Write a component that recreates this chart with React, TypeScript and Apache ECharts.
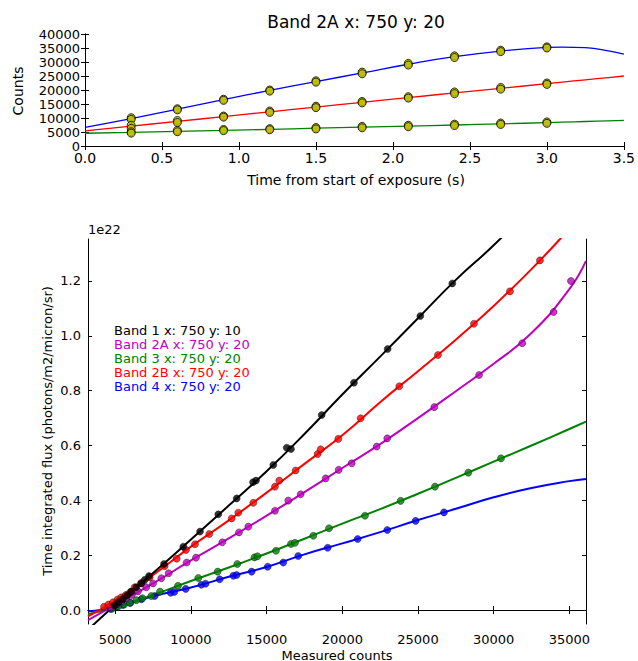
import React, { useEffect, useRef } from "react";
import * as echarts from "echarts";

// ---------- Top panel: counts vs time ----------
const topTimes = [0.3, 0.6, 0.9, 1.2, 1.5, 1.8, 2.1, 2.4, 2.7, 3.0];
const blueReadsA = [10100, 13300, 16700, 20000, 23300, 26400, 29500, 32200, 34200, 35400];
const blueReadsB = [9500, 12900, 16300, 19600, 22800, 25800, 28900, 31600, 33700, 35000];
const redReadsA = [7400, 9100, 10700, 12500, 14200, 15900, 17600, 19300, 20900, 22500];
const redReadsB = [6300, 8400, 10300, 12000, 13700, 15400, 17100, 18700, 20300, 22000];
const greenReadsA = [5100, 5600, 5900, 6200, 6600, 7000, 7400, 7800, 8200, 8600];
const greenReadsB = [4600, 5100, 5500, 5800, 6100, 6500, 6900, 7300, 7700, 8100];

const topFitTimes = [0, 0.3, 0.6, 0.9, 1.2, 1.5, 1.8, 2.1, 2.4, 2.7, 3.0, 3.1, 3.25, 3.4, 3.5];
const blueFit = [6670, 9800, 13150, 16550, 19850, 23000, 26100, 29200, 31900, 33900, 35200, 35330, 35100, 34000, 32800];
const redFit = [5400, 7100, 8800, 10500, 12200, 13900, 15600, 17300, 18950, 20600, 22250, 22800, 23650, 24450, 25000];
const greenFit = [4550, 4850, 5200, 5550, 5950, 6350, 6750, 7100, 7500, 7900, 8350, 8500, 8750, 9000, 9150];

// ---------- Bottom panel: flux (1e22) vs measured counts ----------
const band1Counts = [4962, 5226, 5512, 5797, 6060, 6390, 6723, 6950, 7230, 8220, 9495, 10600, 11808, 13023, 14100, 14300, 15442, 16330, 16610, 18638, 20772, 22998, 25154, 27267];
const band1Flux = [0.016, 0.028, 0.040, 0.054, 0.067, 0.083, 0.097, 0.110, 0.124, 0.168, 0.231, 0.286, 0.349, 0.407, 0.466, 0.472, 0.529, 0.592, 0.587, 0.711, 0.829, 0.952, 1.072, 1.191];

const band2ACounts = [4700, 5100, 5400, 5731, 6100, 6500, 7051, 7500, 8042, 8530, 9720, 10334, 12073, 13175, 13790, 15553, 16431, 17249, 18902, 19761, 20620, 22272, 22971, 26076, 29036, 31888, 33962, 35105];
const band2AFlux = [0.010, 0.022, 0.032, 0.043, 0.055, 0.068, 0.083, 0.097, 0.116, 0.134, 0.173, 0.191, 0.247, 0.283, 0.304, 0.362, 0.399, 0.422, 0.480, 0.511, 0.535, 0.596, 0.626, 0.740, 0.857, 0.973, 1.087, 1.200];

const band3Counts = [4800, 5200, 5600, 5952, 6400, 6800, 7382, 7956, 9145, 10486, 11768, 13063, 14200, 14400, 15619, 16610, 16875, 18085, 19122, 21500, 23855, 26123, 28326, 30484];
const band3Flux = [0.005, 0.013, 0.020, 0.027, 0.036, 0.043, 0.051, 0.067, 0.088, 0.117, 0.140, 0.168, 0.192, 0.196, 0.216, 0.241, 0.245, 0.271, 0.298, 0.344, 0.398, 0.450, 0.501, 0.553];

const band2BCounts = [4257, 4550, 4852, 5150, 5402, 5700, 6000, 6285, 6700, 7275, 8265, 9060, 9674, 10268, 11211, 12693, 13129, 14122, 15552, 15838, 16918, 18374, 18573, 19734, 21213, 23765, 26321, 28699, 31077, 33058];
const band2BFlux = [0.012, 0.020, 0.028, 0.038, 0.046, 0.055, 0.066, 0.083, 0.098, 0.119, 0.160, 0.187, 0.219, 0.240, 0.277, 0.334, 0.355, 0.391, 0.450, 0.472, 0.509, 0.569, 0.586, 0.624, 0.699, 0.816, 0.930, 1.044, 1.162, 1.275];

const band4Counts = [4700, 5100, 5500, 6000, 6723, 7606, 8660, 8900, 9656, 10690, 10970, 11900, 12800, 13023, 14013, 15071, 16101, 17090, 19036, 21016, 22972, 24846, 26717];
const band4Flux = [0.004, 0.012, 0.018, 0.026, 0.039, 0.051, 0.063, 0.066, 0.077, 0.092, 0.096, 0.112, 0.125, 0.128, 0.140, 0.158, 0.173, 0.197, 0.227, 0.259, 0.292, 0.325, 0.356];

const fitCounts = [3200, 5000, 7500, 10000, 12500, 15000, 17500, 20000, 22500, 25000, 27500, 30000, 32500, 35000, 36100];
const band1Fit = [-0.072, 0.018, 0.135, 0.257, 0.381, 0.506, 0.642, 0.786, 0.924, 1.064, 1.204, 1.33, 1.47, 1.6, 1.66];
const band2AFit = [-0.037, 0.019, 0.097, 0.181, 0.261, 0.344, 0.430, 0.518, 0.605, 0.700, 0.798, 0.898, 1.010, 1.170, 1.273];
const band3Fit = [-0.015, 0.010, 0.055, 0.106, 0.155, 0.206, 0.260, 0.315, 0.368, 0.424, 0.482, 0.541, 0.600, 0.660, 0.687];
const band2BFit = [-0.023, 0.034, 0.128, 0.231, 0.327, 0.428, 0.533, 0.637, 0.758, 0.871, 0.986, 1.109, 1.243, 1.39, 1.46];
const band4Fit = [-0.005, 0.010, 0.050, 0.082, 0.121, 0.157, 0.203, 0.243, 0.284, 0.328, 0.369, 0.411, 0.445, 0.470, 0.478];

const bottomXTicks = [5000, 10000, 15000, 20000, 25000, 30000, 35000];
const bottomYTicks = [0, 0.2, 0.4, 0.6, 0.8, 1.0, 1.2];

const legendLines = [
  { text: "Band 1 x: 750 y: 10", color: "#000000" },
  { text: "Band 2A x: 750 y: 20", color: "#bf00bf" },
  { text: "Band 3 x: 750 y: 20", color: "#008000" },
  { text: "Band 2B x: 750 y: 20", color: "#ff0000" },
  { text: "Band 4 x: 750 y: 20", color: "#0000ff" },
];

const FONT = "DejaVu Sans";

const zip = (xs: number[], ys: number[]) => xs.map((x, i) => [x, ys[i]]);

export default function App() {
  const ref = useRef<HTMLDivElement>(null);

  useEffect(() => {
    if (!ref.current) return;
    const chart = echarts.init(ref.current, undefined, { renderer: "svg" });

    const axisLine = { show: true, lineStyle: { color: "#000", width: 1 } };
    const inTick = { show: true, inside: true, length: 4, lineStyle: { color: "#000", width: 1 } };

    const topFitLine = (data: number[], color: string) => ({
      type: "line",
      xAxisIndex: 0,
      yAxisIndex: 0,
      data: zip(topFitTimes, data),
      smooth: true,
      showSymbol: false,
      symbol: "none",
      lineStyle: { color, width: 1.3 },
      z: 2,
    });
    const topReads = (data: number[]) => ({
      type: "scatter",
      xAxisIndex: 0,
      yAxisIndex: 0,
      data: zip(topTimes, data),
      symbol: "circle",
      symbolSize: 8,
      itemStyle: { color: "#bfbf00", borderColor: "#000", borderWidth: 1 },
      z: 3,
    });

    const bandFit = (data: number[], color: string) => ({
      type: "line",
      xAxisIndex: 2,
      yAxisIndex: 2,
      data: zip(fitCounts, data),
      smooth: true,
      showSymbol: false,
      symbol: "none",
      lineStyle: { color, width: 2 },
      z: 2,
    });
    const bandPts = (xs: number[], ys: number[], color: string) => ({
      type: "scatter",
      xAxisIndex: 2,
      yAxisIndex: 2,
      data: zip(xs, ys),
      symbol: "circle",
      symbolSize: 7,
      itemStyle: { color, borderColor: "#000", borderWidth: 0.5 },
      z: 3,
    });

    const graphics: any[] = [
      { type: "text", x: 356, y: 22, style: { text: "Band 2A x: 750 y: 20", font: `17px '${FONT}'`, fill: "#000", textAlign: "center", textVerticalAlign: "middle" } },
      { type: "text", x: 18, y: 91, rotation: Math.PI / 2, style: { text: "Counts", font: `14px '${FONT}'`, fill: "#000", textAlign: "center", textVerticalAlign: "middle" } },
      { type: "text", x: 356, y: 180, style: { text: "Time from start of exposure (s)", font: `14px '${FONT}'`, fill: "#000", textAlign: "center", textVerticalAlign: "middle" } },
      { type: "text", x: 88, y: 236, style: { text: "1e22", font: `13px '${FONT}'`, fill: "#000", textAlign: "left", textVerticalAlign: "bottom" } },
      { type: "text", x: 47, y: 431, rotation: Math.PI / 2, style: { text: "Time integrated flux (photons/m2/micron/sr)", font: `13px '${FONT}'`, fill: "#000", textAlign: "center", textVerticalAlign: "middle" } },
      { type: "text", x: 337, y: 655, style: { text: "Measured counts", font: `13px '${FONT}'`, fill: "#000", textAlign: "center", textVerticalAlign: "middle" } },
      ...legendLines.map((l, i) => ({
        type: "text",
        x: 114,
        y: 330 + i * 14,
        style: { text: l.text, font: `13px '${FONT}'`, fill: l.color, textAlign: "left", textVerticalAlign: "middle" },
      })),
    ];

    const option: any = {
      animation: false,
      backgroundColor: "#fff",
      textStyle: { fontFamily: FONT },
      grid: [
        { left: 85, top: 34, width: 543, height: 112, containLabel: false },
        { left: 88, top: 239, width: 498, height: 385, containLabel: false },
      ],
      xAxis: [
        {
          gridIndex: 0, type: "value", position: "bottom", min: 0, max: 3.5, interval: 0.5,
          axisLine, axisTick: inTick, splitLine: { show: false },
          axisLabel: { fontSize: 14, color: "#000", margin: 5, showMinLabel: true, showMaxLabel: true, fontFamily: FONT, formatter: (v: number) => v.toFixed(1) },
        },
        {
          gridIndex: 0, type: "value", position: "top", min: 0, max: 3.5, interval: 0.5,
          axisLine, axisTick: inTick, splitLine: { show: false }, axisLabel: { show: false },
        },
        {
          gridIndex: 1, type: "value", position: "bottom", min: 3200, max: 36100,
          axisLine, axisTick: { ...inTick, customValues: bottomXTicks }, splitLine: { show: false },
          axisLabel: { fontSize: 13, color: "#000", margin: 9, fontFamily: FONT, customValues: bottomXTicks, formatter: (v: number) => String(Math.round(v)) },
        },
        {
          gridIndex: 1, type: "value", position: "top", min: 3200, max: 36100,
          axisLine, axisTick: { ...inTick, customValues: bottomXTicks }, splitLine: { show: false }, axisLabel: { show: false, customValues: bottomXTicks },
        },
      ],
      yAxis: [
        {
          gridIndex: 0, type: "value", position: "left", min: 0, max: 40000, interval: 5000,
          axisLine, axisTick: inTick, splitLine: { show: false },
          axisLabel: { fontSize: 13, color: "#000", margin: 5, showMinLabel: true, showMaxLabel: true, fontFamily: FONT, formatter: (v: number) => String(Math.round(v)) },
        },
        {
          gridIndex: 0, type: "value", position: "right", min: 0, max: 40000, interval: 5000,
          axisLine, axisTick: inTick, splitLine: { show: false }, axisLabel: { show: false },
        },
        {
          gridIndex: 1, type: "value", position: "left", min: -0.051, max: 1.353,
          axisLine, axisTick: { ...inTick, customValues: bottomYTicks }, splitLine: { show: false },
          axisLabel: { fontSize: 13, color: "#000", margin: 7, fontFamily: FONT, customValues: bottomYTicks, formatter: (v: number) => v.toFixed(1) },
        },
        {
          gridIndex: 1, type: "value", position: "right", min: -0.051, max: 1.353,
          axisLine, axisTick: { ...inTick, customValues: bottomYTicks }, splitLine: { show: false }, axisLabel: { show: false, customValues: bottomYTicks },
        },
      ],
      series: [
        topFitLine(blueFit, "#0000ff"),
        topFitLine(redFit, "#ff0000"),
        topFitLine(greenFit, "#008000"),
        topReads(blueReadsA),
        topReads(blueReadsB),
        topReads(redReadsA),
        topReads(redReadsB),
        topReads(greenReadsA),
        topReads(greenReadsB),
        bandFit(band4Fit, "#0000ff"),
        bandPts(band4Counts, band4Flux, "#0000ff"),
        bandFit(band3Fit, "#008000"),
        bandPts(band3Counts, band3Flux, "#008000"),
        bandFit(band2AFit, "#bf00bf"),
        bandPts(band2ACounts, band2AFlux, "#bf00bf"),
        bandFit(band2BFit, "#ff0000"),
        bandPts(band2BCounts, band2BFlux, "#ff0000"),
        bandFit(band1Fit, "#000000"),
        bandPts(band1Counts, band1Flux, "#000000"),
      ],
      graphic: graphics,
    };

    chart.setOption(option);
    return () => chart.dispose();
  }, []);

  return (
    <div
      ref={ref}
      style={{ position: "absolute", left: 0, top: 0, width: 638, height: 661, background: "#fff" }}
    />
  );
}
